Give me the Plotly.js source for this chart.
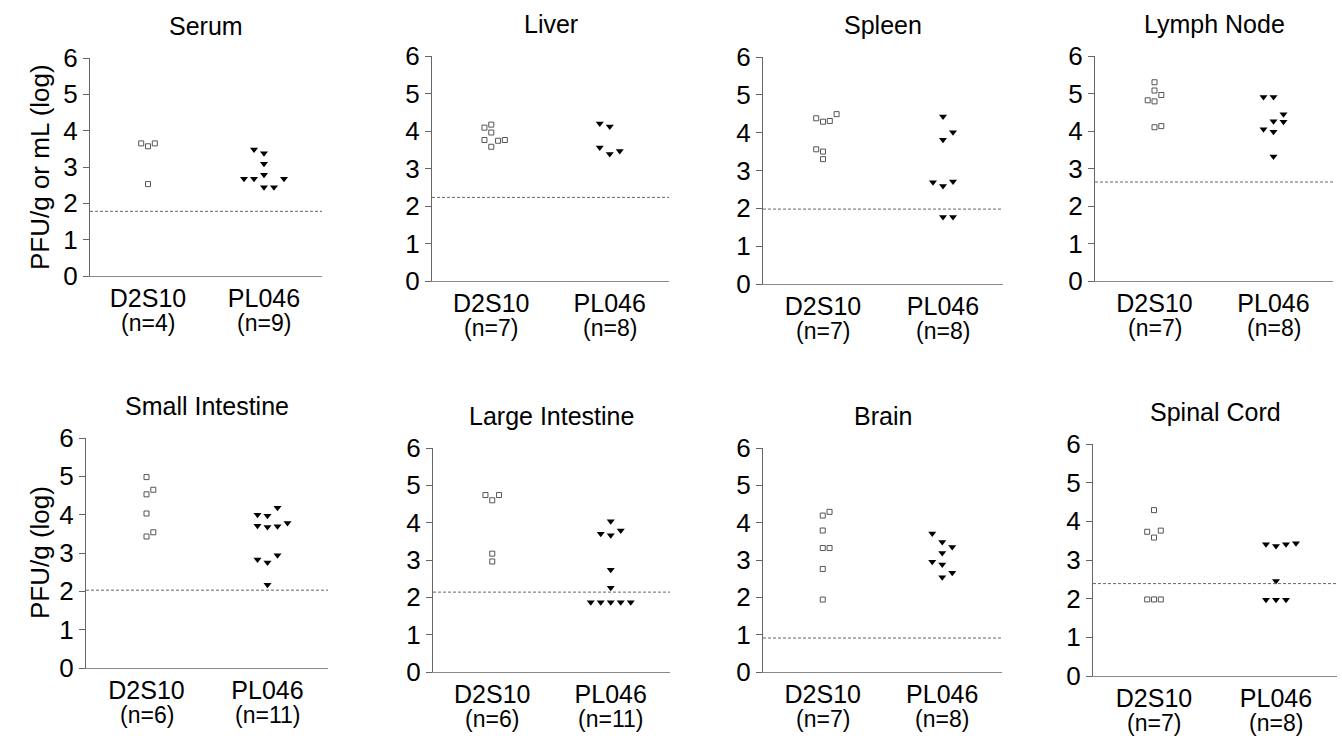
<!DOCTYPE html>
<html><head><meta charset="utf-8">
<script src="https://cdn.plot.ly/plotly-3.0.1.min.js"></script>
<style>html,body{margin:0;padding:0;background:#fff}#chart{width:1342px;height:745px}</style>
</head><body><div id="chart"></div>
<script>
// ---------- data ----------
const panelTitles = ["Serum","Liver","Spleen","Lymph Node","Small Intestine","Large Intestine","Brain","Spinal Cord"];
const groups = ["D2S10","PL046"];
const nD2S10 = [4,7,7,7,6,6,7,7];
const nPL046 = [9,8,8,8,11,11,8,8];
const rowTitles = ["PFU/g or mL (log)","PFU/g (log)"];
const yTicks = [0,1,2,3,4,5,6];
const detectionLimit = [1.78,2.23,1.98,2.64,2.03,2.14,0.91,2.39];

const d2s10Values = [
  [3.65,3.57,3.65,2.53],
  [4.09,4.17,3.96,3.76,3.58,3.74,3.76],
  [4.38,4.29,4.31,4.49,3.56,3.50,3.30],
  [5.30,5.08,4.96,4.82,4.79,4.10,4.13],
  [4.98,4.53,4.65,4.03,3.43,3.54],
  [4.74,4.60,4.74,3.17,2.96],
  [4.19,4.29,3.79,3.32,3.32,2.76,1.94],
  [4.29,3.73,3.58,3.76,1.98,1.98,1.98]
];
// horizontal column slot of each point (scatter spreading)
const d2s10Slots = [
  [-1,0,1,0],
  [-1,0,0,-1,0,1,2],
  [-1,0,1,2,-1,0,0],
  [0,0,1,-1,0,0,1],
  [0,0,1,0,0,1],
  [-1,0,1,0,0],
  [0,1,0,0,1,0,0],
  [0,-1,0,1,-1,0,1]
];
const pl046Values = [
  [3.48,3.38,3.09,2.68,2.68,2.79,2.68,2.44,2.44],
  [4.20,4.12,3.56,3.39,3.47],
  [4.43,4.01,3.81,2.69,2.59,2.71,1.77,1.77],
  [4.91,4.91,4.45,4.26,4.25,4.05,3.98,3.32],
  [4.00,3.97,4.18,3.71,3.68,3.70,3.78,2.83,2.75,2.94,2.17],
  [4.04,3.70,3.66,3.79,2.74,2.26,1.87,1.87,1.87,1.87,1.87],
  [3.71,3.48,3.35,3.19,2.95,2.88,2.66,2.54],
  [3.41,3.36,3.41,3.43,2.46,1.97,1.97,1.97]
];
const pl046Slots = [
  [-1,0,0,-2,-1,0,2,0,1],
  [-1,0,-1,0,1],
  [0,1,0,-1,0,1,0,1],
  [-1,0,1,0,1,-1,0,0],
  [-1,0,1,-1,0,1,2,-1,0,1,0],
  [0,-1,0,1,0,0,-2,-1,0,1,2],
  [-1,0,1,0,-1,0,1,0],
  [-1,0,1,2,0,-1,0,1]
];

// ---------- layout geometry (pixels) ----------
const W = 1342, H = 745;
const boxes = [
  [90,322,58,276],[432,669,56,281],[763,1003,57,284],[1095,1333,56,281],
  [86,328,438,668],[433,670,448,672],[763,1002,448,672],[1093,1337,444,676]
];
const FONT = '"Liberation Sans", Arial, sans-serif';
const sqStepPx = 6.8, triStepPx = 10;

const traces = [];
const layout = {
  width: W, height: H,
  margin: {l:0,r:0,t:0,b:0},
  paper_bgcolor: '#fff', plot_bgcolor: '#fff',
  showlegend: false,
  font: {family: FONT, color: '#000'},
  shapes: [], annotations: []
};

boxes.forEach((b, i) => {
  const k = i === 0 ? '' : String(i + 1);
  const xa = 'xaxis' + k, ya = 'yaxis' + k;
  const xr = 'x' + k, yr = 'y' + k;
  const unitPerPx = 2 / (b[1] - b[0]);
  layout[xa] = {
    domain: [b[0] / W, b[1] / W], range: [0.5, 2.5], anchor: yr,
    showgrid: false, zeroline: false, showline: true, linecolor: '#888', linewidth: 1,
    ticks: '', tickvals: [1, 2], ticktext: groups,
    tickfont: {size: 25, family: FONT, color: '#000'}, fixedrange: true
  };
  layout[ya] = {
    domain: [1 - b[3] / H, 1 - b[2] / H], range: [0, 6], anchor: xr,
    showgrid: false, zeroline: false, showline: true, linecolor: '#666', linewidth: 1,
    ticks: 'outside', ticklen: 6, tickcolor: '#666', tickvals: yTicks,
    tickfont: {size: 26, family: FONT, color: '#000'}, fixedrange: true
  };
  traces.push({
    type: 'scatter', mode: 'markers', xaxis: xr, yaxis: yr,
    x: d2s10Slots[i].map(s => 1 + s * sqStepPx * unitPerPx),
    y: d2s10Values[i],
    marker: {symbol: 'square-open', size: 5, color: '#555', line: {width: 1, color: '#555'}},
    hoverinfo: 'y'
  });
  traces.push({
    type: 'scatter', mode: 'markers', xaxis: xr, yaxis: yr,
    x: pl046Slots[i].map(s => 2 + s * triStepPx * unitPerPx),
    y: pl046Values[i],
    marker: {symbol: 'triangle-down', size: 7, color: '#000'},
    hoverinfo: 'y'
  });
  layout.shapes.push({
    type: 'line', xref: xa.replace('axis','') + ' domain', yref: yr,
    x0: 0, x1: 1, y0: detectionLimit[i], y1: detectionLimit[i],
    line: {color: '#666', width: 1, dash: '3px,2px'}
  });
  // panel title
  layout.annotations.push({
    xref: 'paper', yref: 'paper', x: (b[0] + b[1]) / 2 / W, y: 1 - b[2] / H,
    yanchor: 'bottom', xanchor: 'center', yshift: 16, showarrow: false,
    text: panelTitles[i], font: {size: 25, family: FONT, color: '#000'}
  });
  // n labels
  [nD2S10[i], nPL046[i]].forEach((n, j) => {
    layout.annotations.push({
      xref: xr, yref: 'paper', x: j + 1, y: 1 - b[3] / H,
      yanchor: 'top', xanchor: 'center', yshift: -33, borderpad: 0, showarrow: false,
      text: '(n=' + n + ')', font: {size: 23, family: FONT, color: '#000'}
    });
  });
});

// row y-axis titles
[[0, boxes[0]], [1, boxes[4]]].forEach(([r, b]) => {
  layout.annotations.push({
    xref: 'paper', yref: 'paper', x: 40 / W, y: 1 - (b[2] + b[3]) / 2 / H,
    xanchor: 'center', yanchor: 'middle', textangle: -90, showarrow: false,
    text: rowTitles[r], font: {size: 26, family: FONT, color: '#000'}
  });
});

Plotly.newPlot('chart', traces, layout, {staticPlot: true, displayModeBar: false});
</script>
</body></html>
